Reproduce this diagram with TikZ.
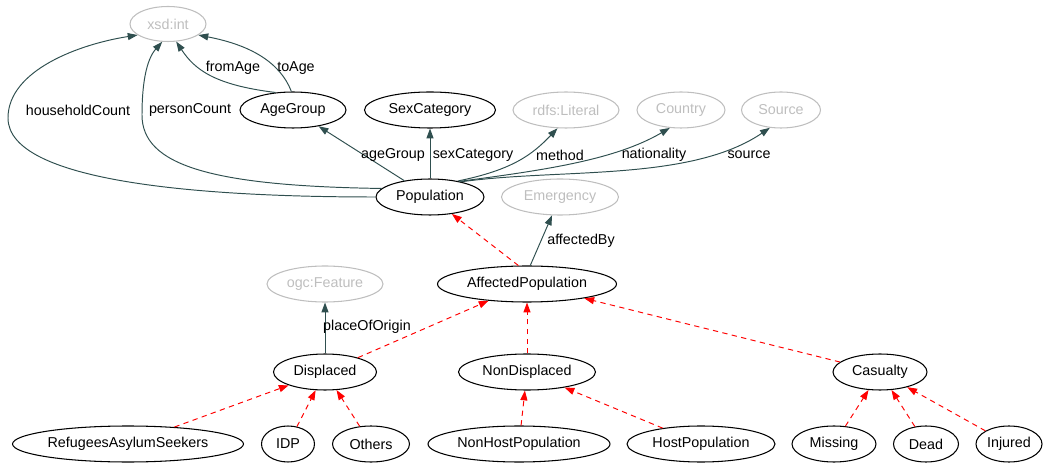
\documentclass[tikz,border=0pt]{standalone}
\usepackage{fontspec}
\setmainfont{Liberation Sans}
\usetikzlibrary{arrows.meta, shapes.geometric}
\definecolor{owlslate}{RGB}{47, 79, 79}
\definecolor{owlgray}{RGB}{190, 190, 190}
\definecolor{owlred}{RGB}{255, 0, 0}

\begin{document}
\begin{tikzpicture}[
    x=0.02cm, y=-0.02cm,
    cls/.style={ellipse, draw=black, line width=0.6pt,
                minimum height=0.72cm, inner sep=0pt,
                font=\fontsize{8.15}{9}\selectfont},
    ext/.style={cls, draw=owlgray, text=owlgray},
    lbl/.style={inner sep=0pt, font=\fontsize{8.15}{9}\selectfont},
    prop/.style={-{Triangle[length=5.6pt, width=4pt]},
                 draw=owlslate, line width=0.55pt},
    sub/.style={-{Triangle[length=5.6pt, width=4pt]},
                draw=owlred, line width=0.55pt,
                dash pattern=on 3pt off 2.5pt},
  ]
    \useasboundingbox (0,0) rectangle (1047,465);

    % Datatypes and external classes
    \node[ext, minimum width=1.52cm, minimum height=0.70cm] (xsd) at (168, 24) {xsd:int};
    \node[ext, minimum width=2.12cm] (rdfs)    at (566, 110) {rdfs:Literal};
    \node[ext, minimum width=1.76cm] (country) at (681, 110) {Country};
    \node[ext, minimum width=1.58cm] (source)  at (781, 110) {Source};
    \node[ext, minimum width=2.34cm] (emerg)   at (560, 197) {Emergency};
    \node[ext, minimum width=2.32cm] (feature) at (325, 284) {ogc:Feature};

    % Core classes
    \node[cls, minimum width=2.12cm] (agegrp) at (293, 110) {AgeGroup};
    \node[cls, minimum width=2.62cm] (sexcat) at (430, 110) {SexCategory};
    \node[cls, minimum width=2.16cm] (pop)    at (430, 197) {Population};
    \node[cls, minimum width=3.58cm] (affpop) at (527, 284) {AffectedPopulation};

    % Second level
    \node[cls, minimum width=2.06cm] (displ)    at (325, 372) {Displaced};
    \node[cls, minimum width=2.74cm] (nondispl) at (527, 372) {NonDisplaced};
    \node[cls, minimum width=1.88cm] (casualty) at (880, 372) {Casualty};

    % Leaves
    \node[cls, minimum width=4.62cm] (refugees) at (128, 444) {RefugeesAsylumSeekers};
    \node[cls, minimum width=1.06cm] (idp)      at (288, 444) {IDP};
    \node[cls, minimum width=1.54cm] (others)   at (371, 444) {Others};
    \node[cls, minimum width=3.64cm] (nonhost)  at (519, 444) {NonHostPopulation};
    \node[cls, minimum width=2.96cm] (host)     at (701, 444) {HostPopulation};
    \node[cls, minimum width=1.68cm] (missing)  at (834, 444) {Missing};
    \node[cls, minimum width=1.30cm] (dead)     at (926, 444) {Dead};
    \node[cls, minimum width=1.32cm] (injured)  at (1009, 444) {Injured};

    % Object and datatype properties
    \draw[prop] (pop.west) .. controls (200,197) and (8,182) .. (8,118)
                .. controls (8,70) and (80,44) .. (xsd.200);
    \draw[prop] (pop.170) .. controls (210,186) and (142,165) .. (142,115)
                .. controls (142,85) and (146,60) .. (xsd.252);
    \draw[prop] (agegrp.135) .. controls (215,85) and (195,70) .. (xsd.295);
    \draw[prop] (agegrp.95) .. controls (280,62) and (250,45) .. (xsd.340);
    \draw[prop] (pop) -- (agegrp);
    \draw[prop] (pop) -- (sexcat);
    \draw[prop] (pop.30) .. controls (512,170) and (532,155) .. (rdfs.245);
    \draw[prop] (pop.28) .. controls (545,170) and (615,160) .. (country.238);
    \draw[prop] (pop.26) .. controls (560,168) and (690,182) .. (source.238);
    \draw[prop] (affpop.80) -- (emerg);
    \draw[prop] (displ) -- (feature);

    \node[lbl] (lhc)  at (78, 110)  {householdCount};
    \node[lbl] (lpc)  at (190, 110) {personCount};
    \node[lbl] (lfa)  at (233, 68)  {fromAge};
    \node[lbl] (lta)  at (296, 68)  {toAge};
    \node[lbl] (lag)  at (393, 155) {ageGroup};
    \node[lbl] (lsc)  at (473, 155) {sexCategory};
    \node[lbl] (lme)  at (560, 155) {method};
    \node[lbl] (lna)  at (654, 155) {nationality};
    \node[lbl] (lso)  at (749, 155) {source};
    \node[lbl] (lab)  at (581, 241) {affectedBy};
    \node[lbl] (lpo)  at (367, 327) {placeOfOrigin};

    % Subclass relations
    \draw[sub] (affpop.115) -- (pop);
    \draw[sub] (displ) -- (affpop);
    \draw[sub] (nondispl) -- (affpop);
    \draw[sub] (casualty) -- (affpop);
    \draw[sub] (refugees) -- (displ);
    \draw[sub] (idp) -- (displ);
    \draw[sub] (others) -- (displ);
    \draw[sub] (nonhost) -- (nondispl);
    \draw[sub] (host) -- (nondispl);
    \draw[sub] (missing) -- (casualty);
    \draw[sub] (dead) -- (casualty);
    \draw[sub] (injured) -- (casualty);
\end{tikzpicture}
\end{document}
